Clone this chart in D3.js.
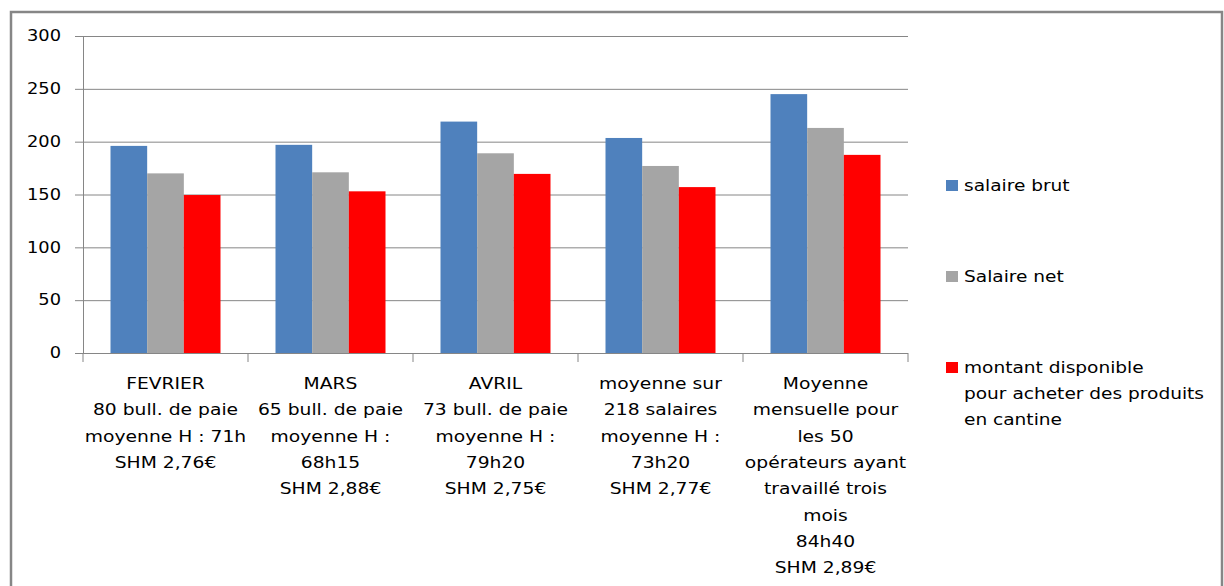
<!DOCTYPE html>
<html>
<head>
<meta charset="utf-8">
<script src="https://cdn.jsdelivr.net/npm/d3@7"></script>
<style>
  html, body { margin: 0; padding: 0; background: #fff; }
  svg { display: block; font-family: "DejaVu Sans", sans-serif; }
</style>
</head>
<body>
<svg id="chart" width="1224" height="586"></svg>
<script>
// Category labels (one array of lines per group)
const categories = ["FEVRIER", "MARS", "AVRIL", "moyenne sur", "Moyenne"];
const categoryLines = [
  ["FEVRIER", "80 bull. de paie", "moyenne H : 71h", "SHM 2,76€"],
  ["MARS", "65 bull. de paie", "moyenne H :", "68h15", "SHM 2,88€"],
  ["AVRIL", "73 bull. de paie", "moyenne H :", "79h20", "SHM 2,75€"],
  ["moyenne sur", "218 salaires", "moyenne H :", "73h20", "SHM 2,77€"],
  ["Moyenne", "mensuelle pour", "les 50", "opérateurs ayant", "travaillé trois", "mois", "84h40", "SHM 2,89€"]
];

// Series values
const salaireBrut = [196, 197, 219, 203.5, 245];
const salaireNet = [170, 171, 189, 177, 213];
const montantDisponible = [149.5, 153, 169.5, 157, 187.5];

const seriesNames = ["salaire brut", "Salaire net", "montant disponible"];
const legendLines = [["salaire brut"], ["Salaire net"], ["montant disponible", "pour acheter des produits", "en cantine"]];
const seriesColors = ["#4F81BD", "#A5A5A5", "#FF0000"];

const yTicks = [0, 50, 100, 150, 200, 250, 300];

const svg = d3.select("#chart");
const gridColor = "#868686";
const stretch = 1.17;

// Outer frame
svg.append("rect")
  .attr("x", 11).attr("y", 12)
  .attr("width", 1211).attr("height", 620)
  .attr("fill", "none")
  .attr("stroke", gridColor)
  .attr("stroke-width", 2.5);

const plot = { left: 83, right: 908, top: 36, bottom: 353 };

const y = d3.scaleLinear().domain([0, 300]).range([plot.bottom, plot.top]);
const x0 = d3.scaleBand()
  .domain(categories)
  .range([plot.left, plot.right])
  .paddingInner(1 / 3)
  .paddingOuter(1 / 6);
const x1 = d3.scaleBand()
  .domain(seriesNames)
  .range([0, x0.bandwidth()])
  .padding(0);

// Y axis with gridlines
const yAxis = d3.axisLeft(y)
  .tickValues(yTicks)
  .tickSizeInner(8)
  .tickSizeOuter(0)
  .tickPadding(0);

const gy = svg.append("g")
  .attr("transform", `translate(${plot.left},0)`)
  .call(yAxis);
gy.select(".domain").attr("stroke", gridColor).attr("stroke-width", 1);
gy.selectAll(".tick line")
  .attr("stroke", gridColor)
  .attr("x1", -8)
  .attr("x2", plot.right - plot.left);
gy.selectAll(".tick text")
  .attr("font-family", "DejaVu Sans")
  .attr("font-size", 15)
  .attr("fill", "#000")
  .attr("x", -22 / 1.19)
  .attr("transform", "scale(1.19,1)");

// Category boundary ticks
const step = x0.step();
const boundaries = categories.map(c => x0(c) - (step - x0.bandwidth()) / 2).concat([plot.right]);
svg.append("g").selectAll("line")
  .data(boundaries)
  .join("line")
  .attr("x1", d => d).attr("x2", d => d)
  .attr("y1", plot.bottom).attr("y2", plot.bottom + 9)
  .attr("stroke", gridColor);

// Bars
const rows = categories.map((c, i) => ({
  cat: c,
  values: [salaireBrut[i], salaireNet[i], montantDisponible[i]]
}));

const groups = svg.append("g").selectAll("g")
  .data(rows)
  .join("g")
  .attr("transform", d => `translate(${x0(d.cat)},0)`);

groups.selectAll("rect")
  .data(d => d.values.map((v, k) => ({ name: seriesNames[k], value: v, color: seriesColors[k] })))
  .join("rect")
  .attr("x", d => x1(d.name))
  .attr("width", x1.bandwidth())
  .attr("y", d => y(d.value))
  .attr("height", d => y(0) - y(d.value))
  .attr("fill", d => d.color);

// Category labels
const lineH = 26.3;
categories.forEach((c, i) => {
  const cx = x0(c) + x0.bandwidth() / 2;
  categoryLines[i].forEach((t, j) => {
    svg.append("g")
      .attr("transform", `translate(${cx},${389 + j * lineH}) scale(${stretch},1)`)
      .append("text")
      .attr("text-anchor", "middle")
      .attr("font-size", 16)
      .attr("fill", "#000")
      .text(t);
  });
});

// Legend
const legendBase = [191, 282, 373];
const legend = svg.append("g");
seriesNames.forEach((s, i) => {
  legend.append("rect")
    .attr("x", 946).attr("y", legendBase[i] - 11)
    .attr("width", 12).attr("height", 11)
    .attr("fill", seriesColors[i]);
  legendLines[i].forEach((t, j) => {
    legend.append("g")
      .attr("transform", `translate(964,${legendBase[i] + j * 26}) scale(1.16,1)`)
      .append("text")
      .attr("font-size", 16)
      .attr("fill", "#000")
      .text(t);
  });
});
</script>
</body>
</html>
